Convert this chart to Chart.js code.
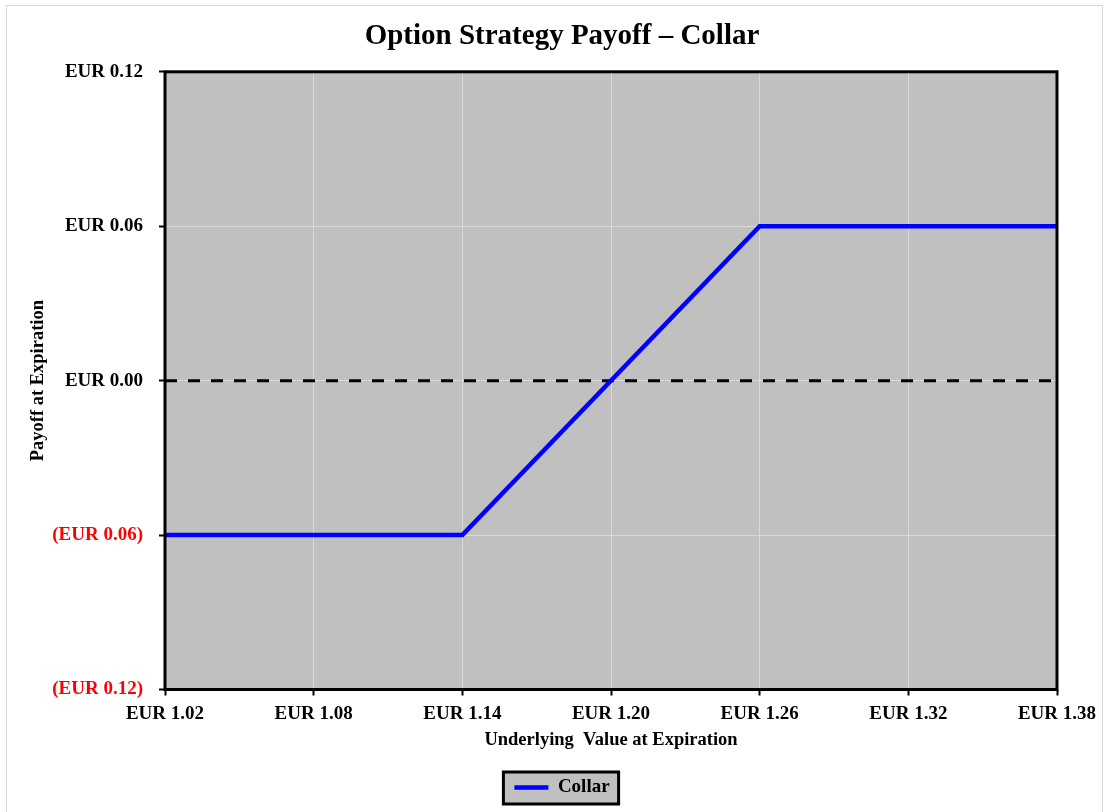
<!DOCTYPE html>
<html>
<head>
<meta charset="utf-8">
<title>Option Strategy Payoff – Collar</title>
<script src="https://cdn.jsdelivr.net/npm/chart.js@4/dist/chart.umd.min.js"></script>
<style>
    html, body { margin: 0; padding: 0; background: #fff; }
    canvas { display: block; }
</style>
</head>
<body>
<canvas id="payoffChart" width="1109" height="812"></canvas>
<script>
// Данные графика
const underlying = [1.02, 1.14, 1.26, 1.38];
const collarPayoff = [-0.06, -0.06, 0.06, 0.06];
const zeroLineX = [1.02, 1.38];
const zeroLineY = [0, 0];
const xTicks = [1.02, 1.08, 1.14, 1.20, 1.26, 1.32, 1.38];
const yTicks = [-0.12, -0.06, 0, 0.06, 0.12];

const FONT = '"Liberation Serif", "Times New Roman", serif';

function formatEur(value) {
    const text = 'EUR ' + Math.abs(value).toFixed(2);
    return value < -1e-9 ? '(' + text + ')' : text;
}

// Фон области графика, рамка и рамка легенды
const framePlugin = {
    id: 'frame',
    beforeDraw(chart) {
        const ctx = chart.ctx;
        const a = chart.chartArea;
        ctx.save();
        ctx.strokeStyle = '#d9d9d9';
        ctx.lineWidth = 1;
        ctx.strokeRect(6.5, 5.5, 1096, 820);
        ctx.fillStyle = '#c0c0c0';
        ctx.fillRect(a.left, a.top, a.right - a.left, a.bottom - a.top);

        const box = chart.legend && chart.legend.legendHitBoxes[0];
        if (box) {
            const x = box.left - 11, y = box.top - 6;
            const w = box.width + 20, h = box.height + 13;
            ctx.fillStyle = '#c0c0c0';
            ctx.fillRect(x, y, w, h);
            ctx.strokeStyle = '#000';
            ctx.lineWidth = 3;
            ctx.strokeRect(x, y, w, h);
        }
        ctx.restore();
    },
    afterDraw(chart) {
        const ctx = chart.ctx;
        const a = chart.chartArea;
        ctx.save();
        ctx.strokeStyle = '#000';
        ctx.lineWidth = 3;
        ctx.strokeRect(a.left, a.top, a.right - a.left, a.bottom - a.top);
        ctx.restore();
    }
};

new Chart(document.getElementById('payoffChart'), {
    type: 'line',
    data: {
        datasets: [
            {
                label: 'Collar',
                data: underlying.map((x, i) => ({ x: x, y: collarPayoff[i] })),
                borderColor: '#0000ff',
                backgroundColor: '#0000ff',
                borderWidth: 4.5,
                pointRadius: 0,
                pointStyle: 'line',
                tension: 0,
                fill: false,
                yAxisID: 'y'
            },
            {
                label: 'Zero',
                data: zeroLineX.map((x, i) => ({ x: x, y: zeroLineY[i] })),
                borderColor: '#000',
                borderWidth: 3,
                borderDash: [12, 11],
                pointRadius: 0,
                fill: false,
                yAxisID: 'y'
            }
        ]
    },
    options: {
        responsive: false,
        animation: false,
        layout: {
            padding: { left: 15, right: 0, top: 0, bottom: 5 }
        },
        plugins: {
            title: {
                display: true,
                text: 'Option Strategy Payoff – Collar',
                color: '#000',
                font: { family: FONT, size: 29, weight: 'bold' },
                padding: { top: 19, bottom: 18 }
            },
            legend: {
                position: 'bottom',
                labels: {
                    filter: item => item.datasetIndex === 0,
                    usePointStyle: true,
                    pointStyleWidth: 34,
                    padding: 18.5,
                    color: '#000',
                    font: { family: FONT, size: 19, weight: 'bold' }
                }
            },
            tooltip: { enabled: false }
        },
        scales: {
            x: {
                type: 'linear',
                min: 1.02,
                max: 1.38,
                afterBuildTicks: scale => { scale.ticks = xTicks.map(v => ({ value: v })); },
                afterFit: scale => { scale.height = 70; },
                border: { display: false },
                grid: {
                    color: '#d9d9d9',
                    lineWidth: 1,
                    drawTicks: true,
                    tickLength: 6,
                    tickColor: '#000',
                    tickWidth: 2
                },
                ticks: {
                    padding: 7,
                    maxRotation: 0,
                    autoSkip: false,
                    color: '#000',
                    font: { family: FONT, size: 19, weight: 'bold' },
                    callback: value => formatEur(value)
                },
                title: {
                    display: true,
                    text: 'Underlying  Value at Expiration',
                    color: '#000',
                    font: { family: FONT, size: 18.5, weight: 'bold' },
                    padding: { top: 0, bottom: 8 }
                }
            },
            y: {
                type: 'linear',
                position: 'left',
                min: -0.12,
                max: 0.12,
                afterBuildTicks: scale => { scale.ticks = yTicks.map(v => ({ value: v })); },
                afterFit: scale => { scale.width = 150; },
                border: { display: false },
                grid: {
                    color: '#d9d9d9',
                    lineWidth: 1,
                    drawTicks: true,
                    tickLength: 6,
                    tickColor: '#000',
                    tickWidth: 2
                },
                ticks: {
                    padding: 16,
                    autoSkip: false,
                    color: ctx => ctx.tick && ctx.tick.value < -1e-9 ? '#ff0000' : '#000',
                    font: { family: FONT, size: 19, weight: 'bold' },
                    callback: value => formatEur(value)
                },
                title: {
                    display: true,
                    text: 'Payoff at Expiration',
                    color: '#000',
                    font: { family: FONT, size: 18.5, weight: 'bold' },
                    padding: { top: 12, bottom: 0 }
                }
            },
            // пустая ось справа, чтобы оставить отступ
            yRight: {
                type: 'linear',
                position: 'right',
                display: true,
                min: -0.12,
                max: 0.12,
                afterFit: scale => { scale.width = 52; },
                border: { display: false },
                grid: { display: false },
                ticks: { display: false }
            }
        }
    },
    plugins: [framePlugin]
});
</script>
</body>
</html>
